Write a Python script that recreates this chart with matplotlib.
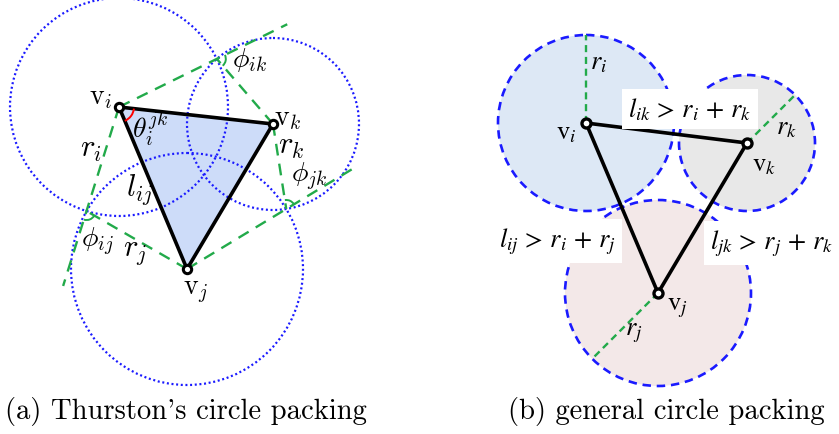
import numpy as np
import matplotlib
matplotlib.use('Agg')
import matplotlib.pyplot as plt
from matplotlib.patches import Circle, Polygon, Arc

# ---------------- data (pixel coordinates, y grows downward) ----------------
# panel (a): Thurston's circle packing, order i, j, k
a_cx = [119, 187, 273]
a_cy = [108, 270, 125]
a_r = [109, 116, 86]
# panel (b): general circle packing, order i, j, k
b_cx = [586, 658, 747]
b_cy = [124, 294, 144]
b_r = [88, 93, 68]
b_fill = ['#dde8f5', '#f3e8e8', '#e8e8e8']
b_rdir = [-90, 135, -45]           # direction of drawn radius (degrees, screen)
captions = ["(a) Thurston's circle packing", "(b) general circle packing"]

W, H = 839, 435
fig = plt.figure(figsize=(W / 100, H / 100), dpi=100)
ax = fig.add_axes([0, 0, 1, 1])
ax.set_xlim(0, W)
ax.set_ylim(H, 0)
ax.set_aspect('equal')
ax.axis('off')

BLUE = '#1a1aff'
GREEN = '#22aa4a'
CM = dict(math_fontfamily='cm')
ST = dict(math_fontfamily='stix')


def intersect(c1, r1, c2, r2, away):
    d = np.linalg.norm(c2 - c1)
    a = (d * d + r1 * r1 - r2 * r2) / (2 * d)
    h = np.sqrt(r1 * r1 - a * a)
    u = (c2 - c1) / d
    p = np.array([-u[1], u[0]])
    cands = [c1 + a * u + h * p, c1 + a * u - h * p]
    return max(cands, key=lambda q: np.linalg.norm(q - away))


def ang(v):
    return np.degrees(np.arctan2(v[1], v[0]))


def small_arc(center, v1, v2, rad, color, lw):
    a1, a2 = ang(v1), ang(v2)
    if (a2 - a1) % 360 > 180:
        a1, a2 = a2, a1
    ax.add_patch(Arc(center, 2 * rad, 2 * rad, theta1=a1, theta2=a2,
                     color=color, lw=lw, zorder=6))


# ---------------- panel (a) ----------------
A = [np.array([x, y], float) for x, y in zip(a_cx, a_cy)]
ax.add_patch(Polygon(A, closed=True, facecolor='#cddcf9', edgecolor='none', zorder=1))
for c, r in zip(A, a_r):
    ax.add_patch(Circle(c, r, fill=False, edgecolor=BLUE, lw=1.6,
                        linestyle=(0, (0.9, 1.2)), zorder=2))

I, J, K = 0, 1, 2
pairs = [(I, J, K, I), (I, K, J, I), (J, K, I, J)]  # (a, b, third, extended-from)
ext = 1.72
for p, q, t, e in pairs:
    P = intersect(A[p], a_r[p], A[q], a_r[q], A[t])
    other = q if e == p else p
    end = A[e] + ext * (P - A[e])
    ax.plot([A[e][0], end[0]], [A[e][1], end[1]], color=GREEN, lw=1.7,
            dashes=(5, 3.5), zorder=3)
    ax.plot([A[other][0], P[0]], [A[other][1], P[1]], color=GREEN, lw=1.7,
            dashes=(5, 3.5), zorder=3)
    small_arc(P, P - A[e], A[other] - P, 9, GREEN, 1.4)

small_arc(A[I], A[K] - A[I], A[J] - A[I], 15, 'red', 1.4)
tri = A + [A[0]]
ax.plot([v[0] for v in tri], [v[1] for v in tri], color='black', lw=2.6,
        solid_joinstyle='round', zorder=4)
ax.plot(a_cx, a_cy, 'o', ms=6, mfc='white', mec='black', mew=2.2, zorder=5)

fs = 20
ax.text(101, 97, r'$\mathrm{v}_i$', fontsize=fs, ha='center', va='center', **CM)
ax.text(288, 118, r'$\mathrm{v}_k$', fontsize=fs, ha='center', va='center', **CM)
ax.text(196, 292, r'$\mathrm{v}_j$', fontsize=fs, ha='center', va='center', **CM)
ax.text(150, 129, r'$\theta_i^{jk}$', fontsize=fs, ha='center', va='center', **CM)
ax.text(91, 150, r'$r_i$', fontsize=22, ha='center', va='center', **CM)
ax.text(139, 190, r'$l_{ij}$', fontsize=22, ha='center', va='center', **CM)
ax.text(135, 253, r'$r_j$', fontsize=22, ha='center', va='center', **CM)
ax.text(97, 242, r'$\phi_{ij}$', fontsize=fs, ha='center', va='center', **CM)
ax.text(291, 147, r'$r_k$', fontsize=22, ha='center', va='center', **CM)
ax.text(309, 177, r'$\phi_{jk}$', fontsize=fs, ha='center', va='center', **CM)
ax.text(250, 60, r'$\phi_{ik}$', fontsize=fs, ha='center', va='center', **CM)

# ---------------- panel (b) ----------------
B = [np.array([x, y], float) for x, y in zip(b_cx, b_cy)]
for c, r, f in zip(B, b_r, b_fill):
    ax.add_patch(Circle(c, r, facecolor=f, edgecolor='none', zorder=1))
for c, r in zip(B, b_r):
    ax.add_patch(Circle(c, r, fill=False, edgecolor=BLUE, lw=1.9,
                        linestyle=(0, (3.2, 2.2)), zorder=2))
for c, r, d in zip(B, b_r, b_rdir):
    t = np.radians(d)
    e = c + r * np.array([np.cos(t), np.sin(t)])
    ax.plot([c[0], e[0]], [c[1], e[1]], color=GREEN, lw=1.7, dashes=(3, 2), zorder=3)

triB = B + [B[0]]
ax.plot([v[0] for v in triB], [v[1] for v in triB], color='black', lw=2.6,
        solid_joinstyle='round', zorder=4)
ax.plot(b_cx, b_cy, 'o', ms=6.5, mfc='white', mec='black', mew=2.4, zorder=5)

fb = 19
ax.text(566, 132, r'$\mathrm{v}_i$', fontsize=fb, ha='center', va='center', **ST)
ax.text(764, 164, r'$\mathrm{v}_k$', fontsize=fb, ha='center', va='center', **ST)
ax.text(677, 307, r'$\mathrm{v}_j$', fontsize=fb, ha='center', va='center', **ST)
ax.text(599, 62, r'$r_i$', fontsize=fb, ha='center', va='center', **ST)
ax.text(786, 127, r'$r_k$', fontsize=fb, ha='center', va='center', **ST)
ax.text(634, 332, r'$r_j$', fontsize=fb, ha='center', va='center', **ST)
box = dict(facecolor='white', edgecolor='none', pad=4.5)
ax.text(690, 110, r'$l_{ik}\,>\,r_i\,+\,r_k$', fontsize=fb, ha='center', va='center',
        bbox=box, zorder=8, **ST)
ax.text(557, 242, r'$l_{ij}\,>\,r_i\,+\,r_j$', fontsize=fb, ha='center', va='center',
        bbox=box, zorder=8, **ST)
ax.text(772, 244, r'$l_{jk}\,>\,r_j\,+\,r_k$', fontsize=fb, ha='center', va='center',
        bbox=box, zorder=8, **ST)

# ---------------- captions ----------------
ax.text(186, 412, captions[0], fontsize=20.6, family='cmr10', ha='center', va='center')
ax.text(666, 412, captions[1], fontsize=20.6, family='cmr10', ha='center', va='center')

fig.savefig('out.png', dpi=100)
